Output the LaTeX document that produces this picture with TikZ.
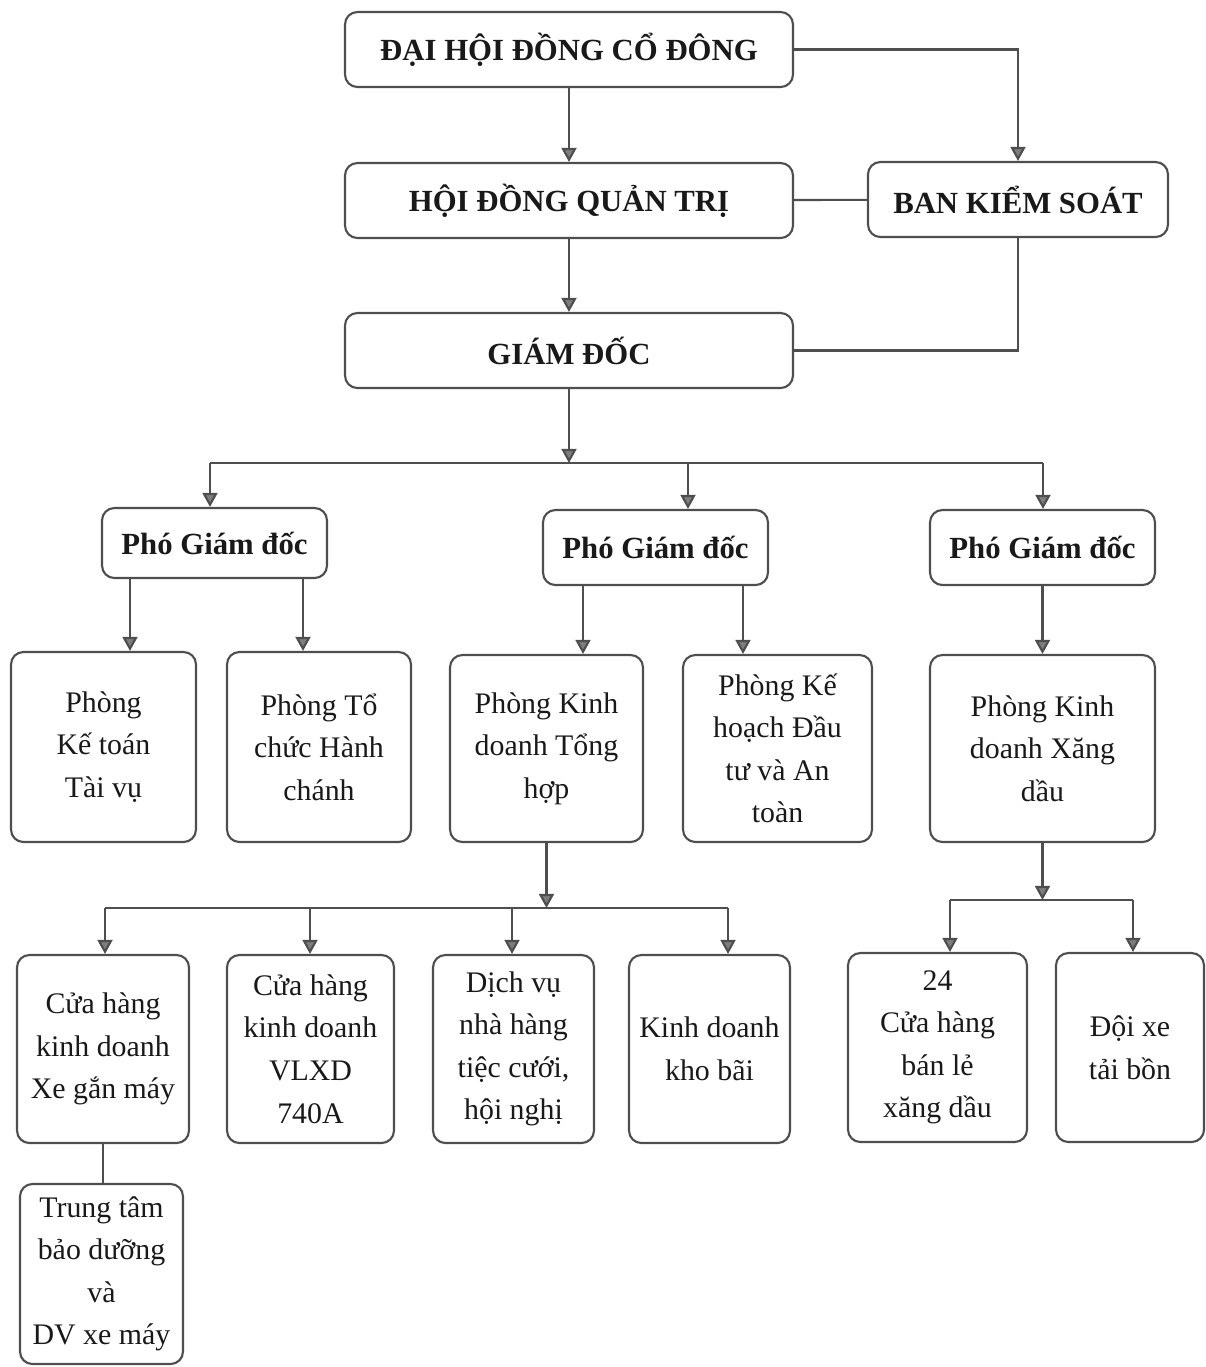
\documentclass[tikz,border=0pt]{standalone}
\usepackage{fontspec}
\setmainfont{Liberation Serif}
\usepackage{tikz}
\usetikzlibrary{arrows.meta, positioning}

\definecolor{linec}{RGB}{78,78,78}
\definecolor{tipc}{RGB}{125,125,125}

\tikzset{
	box/.style={draw=linec, line width=1.2pt, rounded corners=7pt, align=center, inner sep=2pt, text=black!90},
	headbox/.style={box, font=\fontsize{17.5}{20}\selectfont\bfseries, minimum height=1.5cm},
	unitbox/.style={box, font=\fontsize{17}{24.2}\selectfont},
	link/.style={draw=linec, line width=1.2pt}
}

\begin{document}
\begin{tikzpicture}[x=0.02cm, y=-0.02cm, >={Triangle[length=8pt,width=8.5pt,fill=tipc]}]
		\useasboundingbox (0,0) rectangle (1206,1367);
		
		\node[headbox, minimum width=8.96cm] (dhd) at (569,49.5) {ĐẠI HỘI ĐỒNG CỔ ĐÔNG};
		\node[headbox, minimum width=8.96cm] (hdqt) at (569,200.5) {HỘI ĐỒNG QUẢN TRỊ};
		\node[headbox, minimum width=6cm] (bks) at (1018,199.5) {BAN KIỂM SOÁT};
		\node[headbox, minimum width=8.96cm] (gd) at (569,350.5) {GIÁM ĐỐC};
		
		\node[headbox, minimum width=4.5cm, minimum height=1.4cm] (pgd1) at (214.5,543) {Phó Giám đốc};
		\node[headbox, minimum width=4.5cm] (pgd2) at (655.5,547.5) {Phó Giám đốc};
		\node[headbox, minimum width=4.5cm] (pgd3) at (1042.5,547.5) {Phó Giám đốc};
		
		\node[unitbox, minimum width=3.7cm, minimum height=3.8cm] (ktv) at (103.5,747) {Phòng\\Kế toán\\Tài vụ};
		\node[unitbox, minimum width=3.68cm, minimum height=3.8cm] (tchc) at (319,747) {Phòng Tổ\\chức Hành\\chánh};
		\node[unitbox, minimum width=3.86cm, minimum height=3.74cm] (kdth) at (546.5,748.5) {Phòng Kinh\\doanh Tổng\\hợp};
		\node[unitbox, minimum width=3.78cm, minimum height=3.74cm] (khdt) at (777.5,748.5) {Phòng Kế\\hoạch Đầu\\tư và An\\toàn};
		\node[unitbox, minimum width=4.5cm, minimum height=3.74cm] (kdxd) at (1042.5,748.5) {Phòng Kinh\\doanh Xăng\\dầu};
		
		\node[unitbox, minimum width=3.44cm, minimum height=3.76cm] (chxm) at (103,1049) {Cửa hàng\\kinh doanh\\Xe gắn máy};
		\node[unitbox, minimum width=3.34cm, minimum height=3.76cm] (vlxd) at (310.5,1049) {Cửa hàng\\kinh doanh\\VLXD\\740A};
		\node[unitbox, minimum width=3.22cm, minimum height=3.76cm] (dvnh) at (513.5,1049) {Dịch vụ\\nhà hàng\\tiệc cưới,\\hội nghị};
		\node[unitbox, minimum width=3.22cm, minimum height=3.76cm] (kdkb) at (709.5,1049) {Kinh doanh\\kho bãi};
		\node[unitbox, minimum width=3.26cm, minimum height=3.6cm] (ttbd) at (101.5,1274) {Trung tâm\\bảo dưỡng\\và\\DV xe máy};
		\node[unitbox, minimum width=3.58cm, minimum height=3.78cm] (ch24) at (937.5,1047.5) {24\\Cửa hàng\\bán lẻ\\xăng dầu};
		\node[unitbox, minimum width=2.96cm, minimum height=3.78cm] (dxtb) at (1130,1047.5) {Đội xe\\tải bồn};
		
		\coordinate (bus1l) at (210,463); \coordinate (bus1m) at (688,463); \coordinate (bus1r) at (1043,463);
		\coordinate (s11) at (130,578); \coordinate (s12) at (303,578);
		\coordinate (s21) at (583,585); \coordinate (s22) at (743,585);
		\coordinate (bus2a) at (105,908); \coordinate (bus2b) at (310,908); \coordinate (bus2c) at (512,908); \coordinate (bus2d) at (728,908);
		\coordinate (bus3l) at (950,900); \coordinate (bus3r) at (1133,900);
		
		\draw[link, ->] (dhd) -- (hdqt);
		\draw[link, ->] (hdqt) -- (gd);
		\draw[link, ->] (dhd.east) -| (bks.north);
		\draw[link] (hdqt) -- (bks);
		\draw[link] (bks.south) |- (gd.east);
		
		\draw[link, ->] (gd.south) -- (gd.south |- bus1l);
		\draw[link] (bus1l) -- (bus1r);
		\draw[link, ->] (bus1l) -- (bus1l |- pgd1.north);
		\draw[link, ->] (bus1m) -- (bus1m |- pgd2.north);
		\draw[link, ->] (bus1r) -- (bus1r |- pgd3.north);
		
		\draw[link, ->] (s11) -- (s11 |- ktv.north);
		\draw[link, ->] (s12) -- (s12 |- tchc.north);
		\draw[link, ->] (s21) -- (s21 |- kdth.north);
		\draw[link, ->] (s22) -- (s22 |- khdt.north);
		\draw[link, ->] (pgd3) -- (kdxd);
		
		\draw[link, ->] (kdth.south) -- (kdth.south |- bus2a);
		\draw[link] (bus2a) -- (bus2d);
		\draw[link, ->] (bus2a) -- (bus2a |- chxm.north);
		\draw[link, ->] (bus2b) -- (bus2b |- vlxd.north);
		\draw[link, ->] (bus2c) -- (bus2c |- dvnh.north);
		\draw[link, ->] (bus2d) -- (bus2d |- kdkb.north);
		\draw[link] (chxm.south) -- (chxm.south |- ttbd.north);
		
		\draw[link, ->] (kdxd.south) -- (kdxd.south |- bus3l);
		\draw[link] (bus3l) -- (bus3r);
		\draw[link, ->] (bus3l) -- (bus3l |- ch24.north);
		\draw[link, ->] (bus3r) -- (bus3r |- dxtb.north);
	\end{tikzpicture}
\end{document}
